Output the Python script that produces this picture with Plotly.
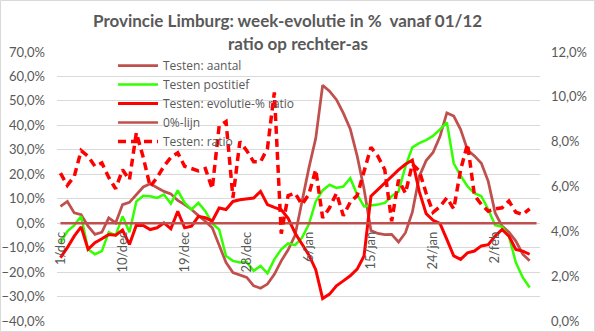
import pandas as pd
import plotly.graph_objects as go

# Daily categories 1/dec .. 8/feb (Dutch month abbreviations)
MONTHS_NL = {12: "dec", 1: "jan", 2: "feb"}
dates = pd.date_range("2020-12-01", "2021-02-08", freq="D")
categories = [f"{d.day}/{MONTHS_NL[d.month]}" for d in dates]
tick_labels = categories[::9]

# Week-evolution in % (left axis)
testen_aantal = [
    6.9, 8.9, 4.2, 3.5, -1.2, -4.6, -3.7, 2.2, 0.1, 7.6,
    8.5, 11.7, 14.8, 16.1, 14.4, 13.0, 12.0, 9.3, 7.6, 5.6,
    3.1, 0.8, -1.9, -8.7, -16.1, -20.2, -21.3, -22.2, -25.6, -26.6,
    -24.9, -20.9, -15.4, -10.9, -5.0, 8.9, 22.5, 34.7, 56.4, 54.0,
    50.5, 45.0, 38.5, 27.5, 14.0, -3.0, -4.2, -4.7, -4.6, -7.7,
    -3.9, 4.5, 19.1, 25.6, 28.9, 35.4, 45.1, 43.8, 38.3, 29.9,
    27.5, 24.5, 17.1, 4.2, -1.2, -3.7, -7.3, -12.7, -15.4,
]
testen_positief = [
    -8.0, -3.3, -0.9, 2.8, -10.7, -12.7, -11.4, -3.7, -5.0, 2.8,
    -3.7, 8.9, 11.2, 11.0, 10.3, 11.7, 8.0, 13.4, 8.3, 5.6,
    8.3, 4.9, -0.1, -2.6, -13.4, -15.4, -16.1, -15.9, -19.5, -17.5,
    -20.5, -14.8, -10.7, -8.3, -9.0, -6.0, -0.5, 8.9, 13.4, 15.7,
    14.4, 15.0, 18.4, 11.7, 6.9, 7.2, 7.6, 8.3, 11.0, 13.0,
    23.2, 31.0, 32.7, 34.0, 35.7, 38.3, 41.2, 24.5, 19.4, 15.0,
    12.3, 11.0, 5.6, -0.8, -1.5, -5.3, -16.1, -22.2, -26.3,
]
testen_evolutie_ratio = [
    -14.1, -10.0, -5.3, -1.5, -10.7, -8.0, -6.4, -4.6, -4.9, -2.8,
    -8.7, -0.8, -0.9, -2.6, -1.9, 0.1, -2.3, 4.9, -1.9, -1.2,
    2.8, 2.2, 0.9, 6.2, 5.6, 8.9, 9.6, 9.9, 10.3, 13.0,
    7.6, 6.5, 5.5, 2.0, -4.0, -8.5, -13.0, -19.0, -30.8, -29.0,
    -25.6, -23.6, -21.5, -18.8, -13.4, 11.0, 13.7, 16.4, 19.4, 21.8,
    24.1, 25.8, 13.0, 3.9, 1.2, -0.1, -6.6, -13.4, -14.8, -12.1,
    -11.4, -9.3, -8.8, -5.3, -2.6, -5.3, -10.7, -11.4, -12.7,
]
nul_lijn = [0.0] * len(categories)

# Positivity ratio in % (right axis)
testen_ratio = [
    6.6, 6.05, 6.45, 7.6, 7.35, 6.9, 7.05, 6.4, 5.9, 6.75,
    6.3, 8.4, 7.3, 6.0, 6.4, 6.9, 7.3, 7.5, 6.9, 6.8,
    6.7, 6.8, 5.9, 8.7, 8.9, 5.5, 8.0, 7.6, 7.1, 7.1,
    7.7, 10.2, 3.9, 5.6, 5.7, 5.2, 5.65, 6.75, 4.6, 5.05,
    5.7, 4.7, 5.3, 5.6, 6.75, 7.75, 7.35, 6.75, 4.45, 6.3,
    5.7, 7.0, 6.7, 5.7, 4.85, 5.1, 5.5, 5.0, 6.75, 7.9,
    5.6, 5.2, 4.9, 5.0, 5.05, 5.35, 4.85, 4.75, 5.0,
]

BROWN = "#C0504D"
GREEN = "#33FF00"
RED = "#FF0000"
TEXT = "#595959"
GRID = "#D9D9D9"
FONT = "Lato"

W, H = 595, 332
M = dict(l=57, r=55, t=52, b=11)
Y_RANGE = [-40, 70]
Y2_RANGE = [0, 12]

fig = go.Figure()
fig.add_trace(go.Scatter(x=categories[:len(testen_aantal)], y=testen_aantal,
                         name="Testen: aantal", mode="lines",
                         line=dict(color=BROWN, width=2.75)))
fig.add_trace(go.Scatter(x=categories[:len(testen_positief)], y=testen_positief,
                         name="Testen postitief", mode="lines",
                         line=dict(color=GREEN, width=2.5)))
fig.add_trace(go.Scatter(x=categories[:len(testen_evolutie_ratio)], y=testen_evolutie_ratio,
                         name="Testen: evolutie-% ratio", mode="lines",
                         line=dict(color=RED, width=3)))
fig.add_trace(go.Scatter(x=categories, y=nul_lijn,
                         name="0%-lijn", mode="lines",
                         line=dict(color=BROWN, width=2.5)))
fig.add_trace(go.Scatter(x=categories[:len(testen_ratio)], y=testen_ratio,
                         name="Testen: ratio", mode="lines", yaxis="y2",
                         line=dict(color=RED, width=3.5, dash="8px,5px")))

zero_pos = (0 - Y_RANGE[0]) / (Y_RANGE[1] - Y_RANGE[0])
plot_w = W - M["l"] - M["r"]
plot_h = H - M["t"] - M["b"]

fig.update_layout(
    width=W, height=H, margin=M,
    paper_bgcolor="white", plot_bgcolor="white",
    separators=",.",
    font=dict(family=FONT, size=13, color=TEXT),
    showlegend=True,
    legend=dict(x=(113 - M["l"]) / plot_w, y=1 - (51 - M["t"]) / plot_h,
                xanchor="left", yanchor="top",
                bgcolor="rgba(0,0,0,0)",
                font=dict(size=12, color=TEXT, family="Open Sans"),
                itemwidth=40, traceorder="normal"),
    xaxis=dict(type="category", categoryorder="array", categoryarray=categories,
               range=[-0.5, len(categories) - 0.5],
               tickmode="array", tickvals=tick_labels, ticktext=tick_labels,
               tickangle=-90, anchor="free", position=zero_pos,
               showgrid=False, zeroline=False, showline=False, automargin=False,
               ticks="", ticklabelstandoff=5,
               tickfont=dict(size=13, color=TEXT)),
    yaxis=dict(range=Y_RANGE, dtick=10, tickformat=".1f", ticksuffix="%",
               showgrid=True, gridcolor=GRID, gridwidth=1, zeroline=False,
               ticks="", ticklabelstandoff=11, automargin=False,
               tickfont=dict(size=13, color=TEXT)),
    yaxis2=dict(range=Y2_RANGE, dtick=2, tickformat=".1f", ticksuffix="%",
                overlaying="y", side="right", showgrid=False, zeroline=False,
                ticks="", ticklabelstandoff=10, automargin=False,
                tickfont=dict(size=13, color=TEXT)),
    shapes=[dict(type="rect", xref="paper", yref="paper",
                 x0=-(M["l"] - 0.5) / plot_w, x1=1 + (M["r"] - 0.5) / plot_w,
                 y0=-(M["b"] - 0.5) / plot_h, y1=1 + (M["t"] - 0.5) / plot_h,
                 line=dict(color=GRID, width=1), layer="below")],
    annotations=[
        dict(text="Provincie Limburg: week-evolutie in %\u00a0 vanaf 01/12",
             xref="paper", yref="paper", x=(287 - M["l"]) / plot_w,
             y=1 + (M["t"] - 20) / plot_h, xanchor="center", yanchor="middle",
             showarrow=False, font=dict(size=17, color=TEXT, family=FONT, weight="bold")),
        dict(text="ratio op rechter-as",
             xref="paper", yref="paper", x=(298 - M["l"]) / plot_w,
             y=1 + (M["t"] - 44) / plot_h, xanchor="center", yanchor="middle",
             showarrow=False, font=dict(size=17, color=TEXT, family=FONT, weight="bold")),
    ],
)

fig.write_html("out.html")
